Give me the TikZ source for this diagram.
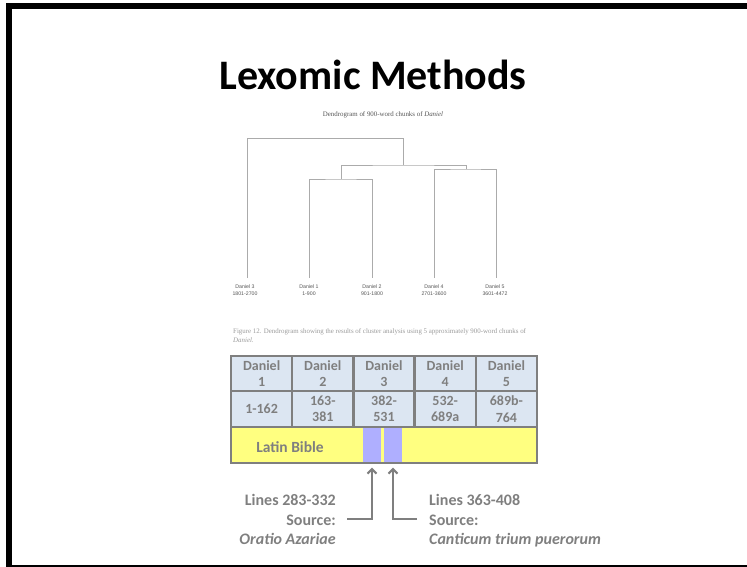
\documentclass[tikz,border=0pt]{standalone}
\usepackage{fontspec}
\setmainfont{Carlito}
\newfontfamily\dserif{Liberation Serif}
\newfontfamily\dsans{Liberation Sans}
\usetikzlibrary{arrows.meta}
\definecolor{tgray}{HTML}{7F7F7F}
\definecolor{cblue}{HTML}{DCE6F2}
\definecolor{byellow}{HTML}{FFFF80}
\definecolor{ppurple}{HTML}{AFAFFF}
\definecolor{dline}{HTML}{ABABAB}
\definecolor{dtext}{HTML}{555555}
\definecolor{captext}{HTML}{9A9A9A}
\tikzset{
  cell/.style={draw=tgray, line width=2.5pt, fill=cblue, minimum width=61.2pt,
    inner sep=0pt, align=center, text=tgray, font=\bfseries\fontsize{14}{16.3}\selectfont},
  dend/.style={draw=dline, line width=0.8pt},
  dlab/.style={text=dtext, font=\dsans\fontsize{5.2}{7}\selectfont, align=center, inner sep=0pt},
  pbox/.style={fill=ppurple, minimum width=18pt, minimum height=35pt, inner sep=0pt},
  lab/.style={text=tgray, font=\bfseries\fontsize{16}{19.5}\selectfont, inner sep=0pt},
  arr/.style={draw=tgray, line width=2pt, -{Straight Barb[length=4.5pt,width=9pt]}, shorten >=5pt},
  captxt/.style={anchor=base west, text=captext, font=\dserif\fontsize{6.9}{8}\selectfont, inner sep=0pt},
}
\begin{document}
\begin{tikzpicture}[x=1pt,y=-1pt]
\useasboundingbox (0,0) rectangle (747,567);
% frame
\fill[black] (6,3) rectangle (747,9);
\fill[black] (6,3) rectangle (12,567);
\draw[black, line width=1.5pt] (12,566) -- (747,566);
% title
\node[anchor=base, font=\bfseries\fontsize{42}{50}\selectfont, inner sep=0pt] (title) at (373,90) {Lexomic Methods};
% dendrogram
\node[anchor=base, text=dtext, font=\dserif\fontsize{6.9}{8}\selectfont, inner sep=0pt] (dtitle) at (383,117) {Dendrogram of 900-word chunks of \textit{Daniel}};
\coordinate (l3) at (247,278);
\coordinate (l1) at (309,278);
\coordinate (l2) at (372,278);
\coordinate (l4) at (434,278);
\coordinate (l5) at (496,278);
\coordinate (m12) at (341,179);
\coordinate (m45) at (466,169);
\coordinate (mroot) at (403,138);
\draw[dend] (l1) |- (m12) -| (l2);
\draw[dend] (l4) |- (m45) -| (l5);
\draw[dend] (m12) |- (403,165) -| (m45);
\draw[dend] (l3) |- (mroot) -- (403,165);
\node[dlab] (n3) at (245,290.5) {Daniel 3\\1801-2700};
\node[dlab] (n1) at (309,290.5) {Daniel 1\\1-900};
\node[dlab] (n2) at (372,290.5) {Daniel 2\\901-1800};
\node[dlab] (n4) at (434,290.5) {Daniel 4\\2701-3600};
\node[dlab] (n5) at (495,290.5) {Daniel 5\\3601-4472};
% caption
\node[captxt] (cap1) at (233,333.5) {Figure 12. Dendrogram showing the results of cluster analysis using 5 approximately 900-word chunks of};
\node[captxt] (cap2) at (233,342) {\textit{Daniel}.};
% table
\foreach \i/\a/\b in {1/Daniel\\1/1-162, 2/Daniel\\2/163-\\381, 3/Daniel\\3/382-\\531, 4/Daniel\\4/532-\\689a, 5/Daniel\\5/689b-\\764}{
  \node[cell, minimum height=35pt] (h\i) at ({231+61.2*(\i-0.5)},373.5) {\a};
  \node[cell, minimum height=36pt] (r\i) at ({231+61.2*(\i-0.5)},409) {\b};
}
\node[fill=byellow, minimum width=306pt, minimum height=36pt, inner sep=0pt] (bible) at (384,445) {};
\node[pbox] (p1) at (372,445) {};
\node[pbox] (p2) at (393,445) {};
\draw[tgray, line width=2.5pt] (bible.north west) rectangle (bible.south east);
\node[anchor=base, text=tgray, font=\bfseries\fontsize{15.5}{18}\selectfont, inner sep=0pt] (lb) at (290,452) {Latin Bible};
% labels
\node[lab, anchor=base east] (a1) at (336,505) {Lines 283-332};
\node[lab, anchor=base east] (a2) at (336,525) {Source:};
\node[lab, anchor=base east] (a3) at (336,544) {\itshape Oratio Azariae};
\node[lab, anchor=base west] (b1) at (429,505) {Lines 363-408};
\node[lab, anchor=base west] (b2) at (429,525) {Source:};
\node[lab, anchor=base west] (b3) at (429,544) {\itshape Canticum trium puerorum};
\coordinate (s1) at (347,519);
\coordinate (s2) at (417,519);
\draw[arr] (s1) -| (p1.south);
\draw[arr] (s2) -| (p2.south);
\end{tikzpicture}
\end{document}
